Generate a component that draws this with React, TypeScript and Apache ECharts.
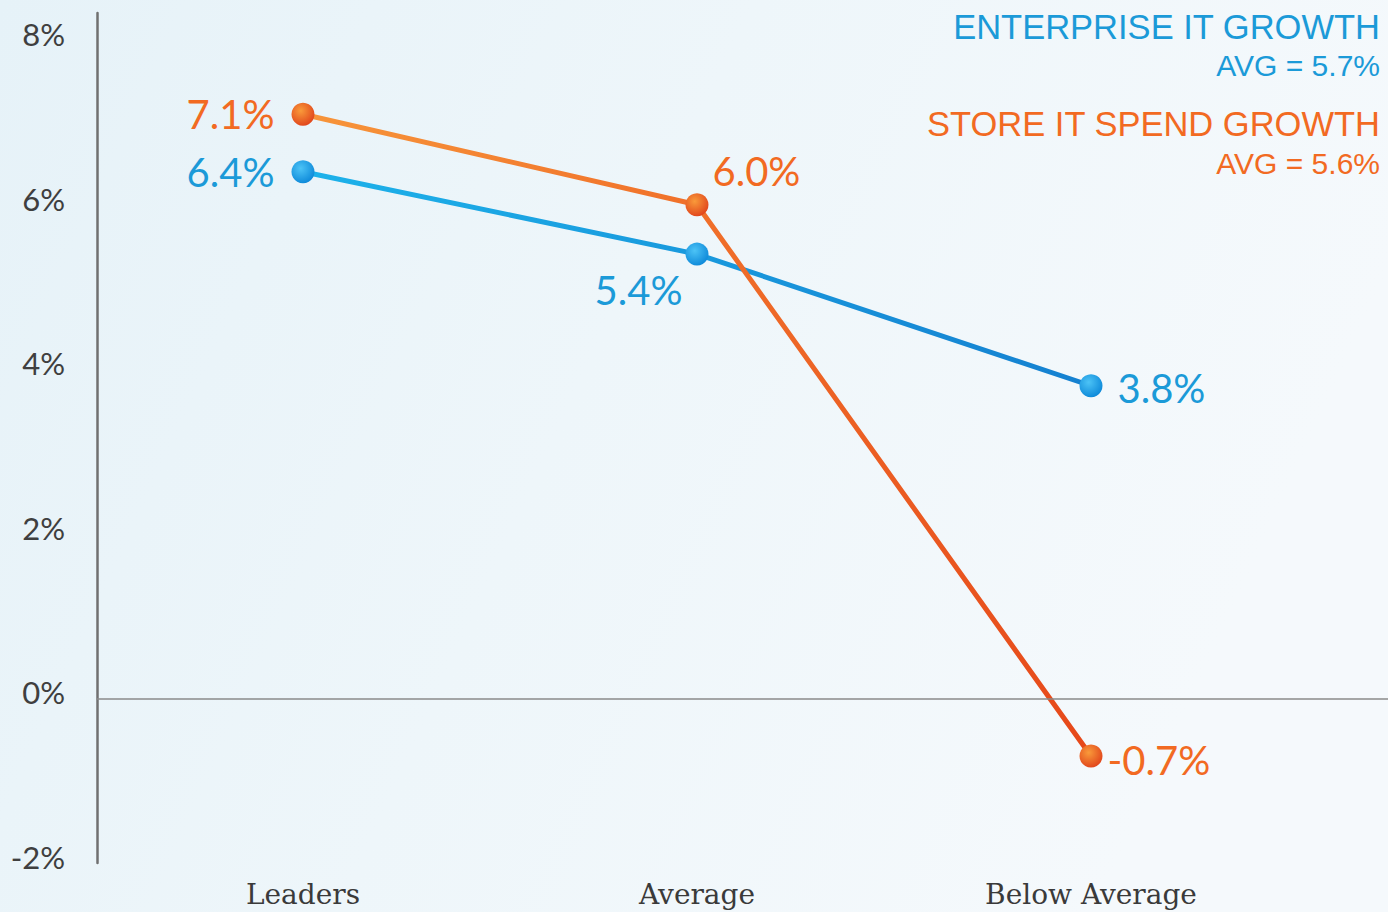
import React, { useEffect, useRef } from "react";
import * as echarts from "echarts";

const categories = ["Leaders", "Average", "Below Average"];
const enterpriseGrowth = [6.4, 5.4, 3.8];
const storeGrowth = [7.1, 6.0, -0.7];
const yTickValues = [-2, 0, 2, 4, 6, 8];
const enterpriseAvg = 5.7;
const storeAvg = 5.6;

const BLUE = "#1b9ad8";
const ORANGE = "#f26a22";

// label placement per point (style, not data)
const enterpriseLabelPos = [
  { position: "left", distance: 17, offset: [0, 0] },
  { position: "left", distance: 3, offset: [0, 36] },
  { position: "right", distance: 15, offset: [0, 2] },
];
const storeLabelPos = [
  { position: "left", distance: 17, offset: [0, 0] },
  { position: "right", distance: 4, offset: [0, -34] },
  { position: "right", distance: 5, offset: [0, 4] },
];

export default function App() {
  const ref = useRef<HTMLDivElement>(null);
  useEffect(() => {
    document.body.style.margin = "0";
    const chart = echarts.init(ref.current!, null, { renderer: "svg" });
    const fmt = (v: number) => `${v.toFixed(1)}%`;
    const build = (vals: number[], pos: any[], color: string) =>
      vals.map((v, i) => ({
        value: [i, v],
        label: {
          show: true,
          position: pos[i].position,
          distance: pos[i].distance,
          offset: pos[i].offset,
          formatter: () => fmt(v),
          color,
          fontFamily: "Lato",
          fontSize: 40,
        },
      }));
    chart.setOption({
      animation: false,
      backgroundColor: new echarts.graphic.LinearGradient(0, 0, 1, 0.3, [
        { offset: 0, color: "#e6f2f8" },
        { offset: 0.5, color: "#eef6fa" },
        { offset: 1, color: "#f5f9fc" },
      ]),
      grid: { left: 97, right: 0, top: 13, bottom: 49, outerBoundsMode: "none", containLabel: false },
      xAxis: {
        type: "value",
        min: -0.5228,
        max: 2.7538,
        axisLine: { show: false },
        axisTick: { show: false },
        splitLine: { show: false },
        axisLabel: {
          customValues: [0, 1, 2],
          formatter: (v: number) => categories[Math.round(v)] ?? "",
          fontFamily: "DejaVu Serif",
          fontSize: 28,
          color: "#3a3a3a",
          margin: 17,
        },
      },
      yAxis: {
        type: "value",
        min: -2,
        max: 8.33,
        axisLine: { show: true, onZero: false, lineStyle: { color: "#707070", width: 2.5 } },
        axisTick: { show: false },
        splitLine: { show: false },
        axisLabel: {
          customValues: yTickValues,
          formatter: (v: number) => `{t|${v}%}`,
          margin: 32,
          rich: {
            t: {
              fontFamily: "Lato",
              fontSize: 31,
              color: "#3f3f3f",
              padding: [0, 0, 12, 0],
            },
          },
        },
      },
      graphic: [
        {
          type: "text",
          right: 8,
          top: 9,
          style: { text: "ENTERPRISE IT GROWTH", fill: BLUE, font: '34.5px "Liberation Sans"', textAlign: "right" },
        },
        {
          type: "text",
          right: 8,
          top: 50,
          style: { text: `AVG = ${enterpriseAvg}%`, fill: BLUE, font: '30px "Liberation Sans"', textAlign: "right" },
        },
        {
          type: "text",
          right: 8,
          top: 106,
          style: { text: "STORE IT SPEND GROWTH", fill: ORANGE, font: '34.5px "Liberation Sans"', textAlign: "right" },
        },
        {
          type: "text",
          right: 8,
          top: 148,
          style: { text: `AVG = ${storeAvg}%`, fill: ORANGE, font: '30px "Liberation Sans"', textAlign: "right" },
        },
      ],
      series: [
        {
          type: "line",
          name: "Enterprise IT Growth",
          data: build(enterpriseGrowth, enterpriseLabelPos, BLUE),
          symbol: "circle",
          symbolSize: 23,
          lineStyle: {
            width: 5,
            color: new echarts.graphic.LinearGradient(0, 0, 1, 0, [
              { offset: 0, color: "#1db2ea" },
              { offset: 1, color: "#1580d0" },
            ]),
          },
          itemStyle: {
            color: new echarts.graphic.RadialGradient(0.4, 0.35, 0.7, [
              { offset: 0, color: "#4cc3f6" },
              { offset: 1, color: "#0b87d8" },
            ]),
          },
          markLine: {
            silent: true,
            symbol: "none",
            label: { show: false },
            lineStyle: { color: "#8a8a8a", width: 1.5, type: "solid" },
            data: [{ yAxis: 0 }],
          },
          z: 2,
        },
        {
          type: "line",
          name: "Store IT Spend Growth",
          data: build(storeGrowth, storeLabelPos, ORANGE),
          symbol: "circle",
          symbolSize: 23,
          lineStyle: {
            width: 5,
            color: new echarts.graphic.LinearGradient(0, 0, 1, 0, [
              { offset: 0, color: "#f7953a" },
              { offset: 0.5, color: "#f0702a" },
              { offset: 1, color: "#e6481a" },
            ]),
          },
          itemStyle: {
            color: new echarts.graphic.RadialGradient(0.4, 0.35, 0.7, [
              { offset: 0, color: "#f99a3a" },
              { offset: 1, color: "#e0421a" },
            ]),
          },
          z: 3,
        },
      ],
    });
    return () => chart.dispose();
  }, []);
  return <div ref={ref} style={{ position: "fixed", left: 0, top: 0, width: 1388, height: 912 }} />;
}
